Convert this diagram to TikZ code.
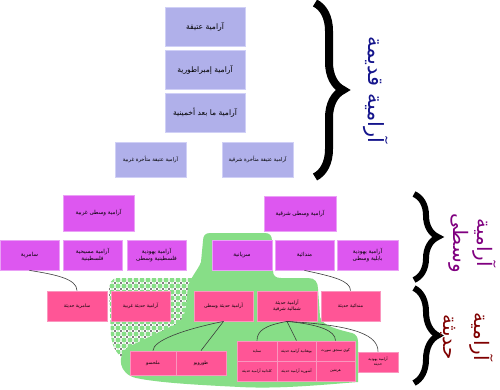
\documentclass[tikz,border=0pt]{standalone}
\usepackage{fontspec}
\newfontfamily\arf[Script=Arabic]{DejaVu Sans}
\TeXXeTstate=1
\usetikzlibrary{decorations.pathreplacing}
\newcommand\arx[1]{\beginR #1\endR}
\definecolor{oldfill}{RGB}{176,176,234}
\definecolor{oldline}{RGB}{208,208,246}
\definecolor{midfill}{RGB}{221,87,240}
\definecolor{midline}{RGB}{234,160,246}
\definecolor{modfill}{RGB}{255,85,150}
\definecolor{modline}{RGB}{250,150,190}
\definecolor{blob}{RGB}{135,222,135}
\definecolor{oldlab}{RGB}{20,20,140}
\definecolor{midlab}{RGB}{128,0,128}
\definecolor{modlab}{RGB}{128,0,0}
\definecolor{conncol}{RGB}{60,60,60}
\tikzset{
  box/.style={rectangle, inner sep=0pt, align=center, line width=0.8pt, text=black},
  oldbox/.style={box, fill=oldfill, draw=oldline},
  midbox/.style={box, fill=midfill, draw=midline},
  modbox/.style={box, fill=modfill, draw=modline},
  fsA/.style={font={\arf\fontsize{7.6}{9}\selectfont}},
  fsB/.style={font={\arf\fontsize{5.2}{6.5}\selectfont}},
  fsC/.style={font={\arf\fontsize{5.6}{7.2}\selectfont}},
  fsD/.style={font={\arf\fontsize{4.7}{6.2}\selectfont}},
  fsE/.style={font={\arf\fontsize{3.7}{5}\selectfont}},
  conn/.style={draw=conncol, line width=0.6pt},
  bigbrace/.style={draw=black, decorate, decoration={brace, amplitude=#1}},
  lab/.style={rotate=-90, align=center, inner sep=0pt},
}
\begin{document}
\begin{tikzpicture}[x=1pt, y=-1pt]
\useasboundingbox (0,0) rectangle (500,389);
\fill[white] (0,0) rectangle (500,389);

% dotted region
\def\dotpath{(196,278) -- (118,278) .. controls (111,278) and (109,283) .. (109,292) -- (111,335) .. controls (112,348) and (118,356) .. (128,362) -- (182,340) -- (200,278) -- cycle}
\begin{scope}
  \clip \dotpath;
  \fill[white] (100,270) rectangle (210,370);
  \foreach \i in {106,112,...,204} {
    \foreach \j in {274,280,...,368} {
      \fill[blob] (\i,\j) circle (2.5);
      \fill[black] (\i+3,\j+3) ellipse (0.7 and 1.3);
    }
  }
\end{scope}

% green blob
\fill[blob] (210,233) -- (265,233) .. controls (270,233) and (272,236) .. (272,241)
  -- (273,271) .. controls (273,276) and (276,278) .. (281,278)
  -- (308,278) .. controls (315,278) and (318,282) .. (318,289)
  -- (320,317) .. controls (322,326) and (340,330) .. (352,333)
  .. controls (356,334) and (358,337) .. (358,342)
  -- (358,382) .. controls (320,385) and (280,389) .. (240,387)
  .. controls (200,385) and (160,383) .. (136,378)
  .. controls (119,374) and (116,356) .. (128,347)
  -- (168,328) .. controls (180,323) and (185,318) .. (186,305)
  -- (188,287) .. controls (190,278) and (198,270) .. (201,262)
  -- (203,241) .. controls (203,236) and (205,233) .. (210,233) -- cycle;

% braces
\coordinate (b1a) at (315,3);   \coordinate (b1b) at (315,177);
\coordinate (b2a) at (414,194); \coordinate (b2b) at (414,280);
\coordinate (b3a) at (414,288); \coordinate (b3b) at (414,383);
\draw[bigbrace=28pt, line width=8pt] (b1a) -- (b1b);
\draw[bigbrace=24pt, line width=6pt] (b2a) -- (b2b);
\draw[bigbrace=24pt, line width=6pt] (b3a) -- (b3b);

% labels
\node[lab, text=oldlab, font={\arf\fontsize{21}{25}\selectfont}] (lold) at (376,90) {\arx{آرامية قديمة}};
\node[lab, text=midlab, font={\arf\fontsize{20}{24}\selectfont}] (lmid) at (472,243) {\arx{آرامية}\\\arx{وسطى}};
\node[lab, text=modlab, font={\arf\fontsize{20}{31}\selectfont}] (lmod) at (467,337) {\arx{آرامية}\\\arx{حديثة}};

% old
\node[oldbox, fsA, minimum width=80pt, minimum height=39pt] (o1) at (205,26.5) {\arx{آرامية عتيقة}};
\node[oldbox, fsA, minimum width=80pt, minimum height=39pt] (o2) at (205,69.5) {\arx{آرامية إمبراطورية}};
\node[oldbox, fsA, minimum width=80pt, minimum height=39pt] (o3) at (205,112.5) {\arx{آرامية ما بعد أخمينية}};
\node[oldbox, fsB, minimum width=71pt, minimum height=35pt] (ow) at (150.5,159.5) {\arx{آرامية عتيقة متأخرة غربية}};
\node[oldbox, fsB, minimum width=71pt, minimum height=35pt] (oe) at (257.5,159.5) {\arx{آرامية عتيقة متأخرة شرقية}};

% middle
\node[midbox, fsC, minimum width=71pt, minimum height=36pt] (mw) at (98.5,213) {\arx{آرامية وسطى غربية}};
\node[midbox, fsC, minimum width=72pt, minimum height=35pt] (me) at (300,213.5) {\arx{آرامية وسطى شرقية}};
\node[midbox, fsC, minimum width=59pt, minimum height=30pt] (sam) at (29.5,255) {\arx{سامرية}};
\node[midbox, fsC, minimum width=59pt, minimum height=30pt] (cpa) at (92.5,255) {\arx{آرامية مسيحية}\\\arx{فلسطينية}};
\node[midbox, fsC, minimum width=59pt, minimum height=30pt] (jpa) at (156.5,255) {\arx{آرامية يهودية}\\\arx{فلسطينية وسطى}};
\node[midbox, fsC, minimum width=60pt, minimum height=30pt] (syr) at (242,255) {\arx{سريانية}};
\node[midbox, fsC, minimum width=59pt, minimum height=30pt] (mand) at (304.5,255) {\arx{مندائية}};
\node[midbox, fsC, minimum width=61pt, minimum height=30pt] (jba) at (367.5,255) {\arx{آرامية يهودية}\\\arx{بابلية وسطى}};

% modern
\node[modbox, fsD, minimum width=60pt, minimum height=30pt] (msam) at (77,306) {\arx{سامرية حديثة}};
\node[modbox, fsD, minimum width=59pt, minimum height=30pt] (wna) at (140.5,306) {\arx{آرامية حديثة غربية}};
\node[modbox, fsD, minimum width=59pt, minimum height=30pt] (cna) at (223.5,306) {\arx{آرامية حديثة وسطى}};
\node[modbox, fsD, minimum width=60pt, minimum height=30pt] (nena) at (287,306) {\arx{آرامية حديثة}\\\arx{شمالية شرقية}};
\node[modbox, fsD, minimum width=59pt, minimum height=30pt] (nmand) at (350.5,306) {\arx{مندائية حديثة}};
\node[modbox, fsD, minimum width=46pt, minimum height=24pt] (mla) at (153,363) {\arx{ملحسو}};
\node[modbox, fsD, minimum width=50pt, minimum height=24pt] (tur) at (201,363) {\arx{طورويو}};
\node[modbox, fsE, minimum width=40pt, minimum height=20pt] (sen) at (257,351) {\arx{سناية}};
\node[modbox, fsE, minimum width=39pt, minimum height=20pt] (boh) at (296.5,351) {\arx{بوهتانية آرامية حديثة}};
\node[modbox, fsE, minimum width=39pt, minimum height=20pt] (koy) at (335.5,351) {\arx{كوي سنجق سورث}};
\node[modbox, fsE, minimum width=40pt, minimum height=20pt] (chal) at (257,371) {\arx{كلدانية آرامية حديثة}};
\node[modbox, fsE, minimum width=39pt, minimum height=20pt] (ass) at (296.5,371) {\arx{آشورية آرامية حديثة}};
\node[modbox, fsE, minimum width=39pt, minimum height=20pt] (her) at (335.5,371) {\arx{هرتفين}};
\node[modbox, fsE, minimum width=40pt, minimum height=20pt] (jna) at (378,362) {\arx{آرامية يهودية}\\\arx{حديثة}};

% connectors
\draw[conn] (sam.south) .. controls +(25,4) and +(0,-12) .. (msam.north);
\draw[conn] (mand.south) .. controls +(28,6) and +(0,-10) .. (nmand.north);
\draw[conn] (cna.south) .. controls +(-40,8) and +(0,-10) .. (mla.north);
\draw[conn] (cna.south) -- (tur.north);
\draw[conn] (nena.south) .. controls +(-22,4) and +(0,-10) .. (sen.north);
\draw[conn] (nena.south) -- (boh.north);
\draw[conn] (nena.south) .. controls +(32,3) and +(0,-10) .. (koy.north);
\draw[conn] (nena.south) .. controls +(70,4) and +(0,-16) .. (jna.north);
\end{tikzpicture}
\end{document}
